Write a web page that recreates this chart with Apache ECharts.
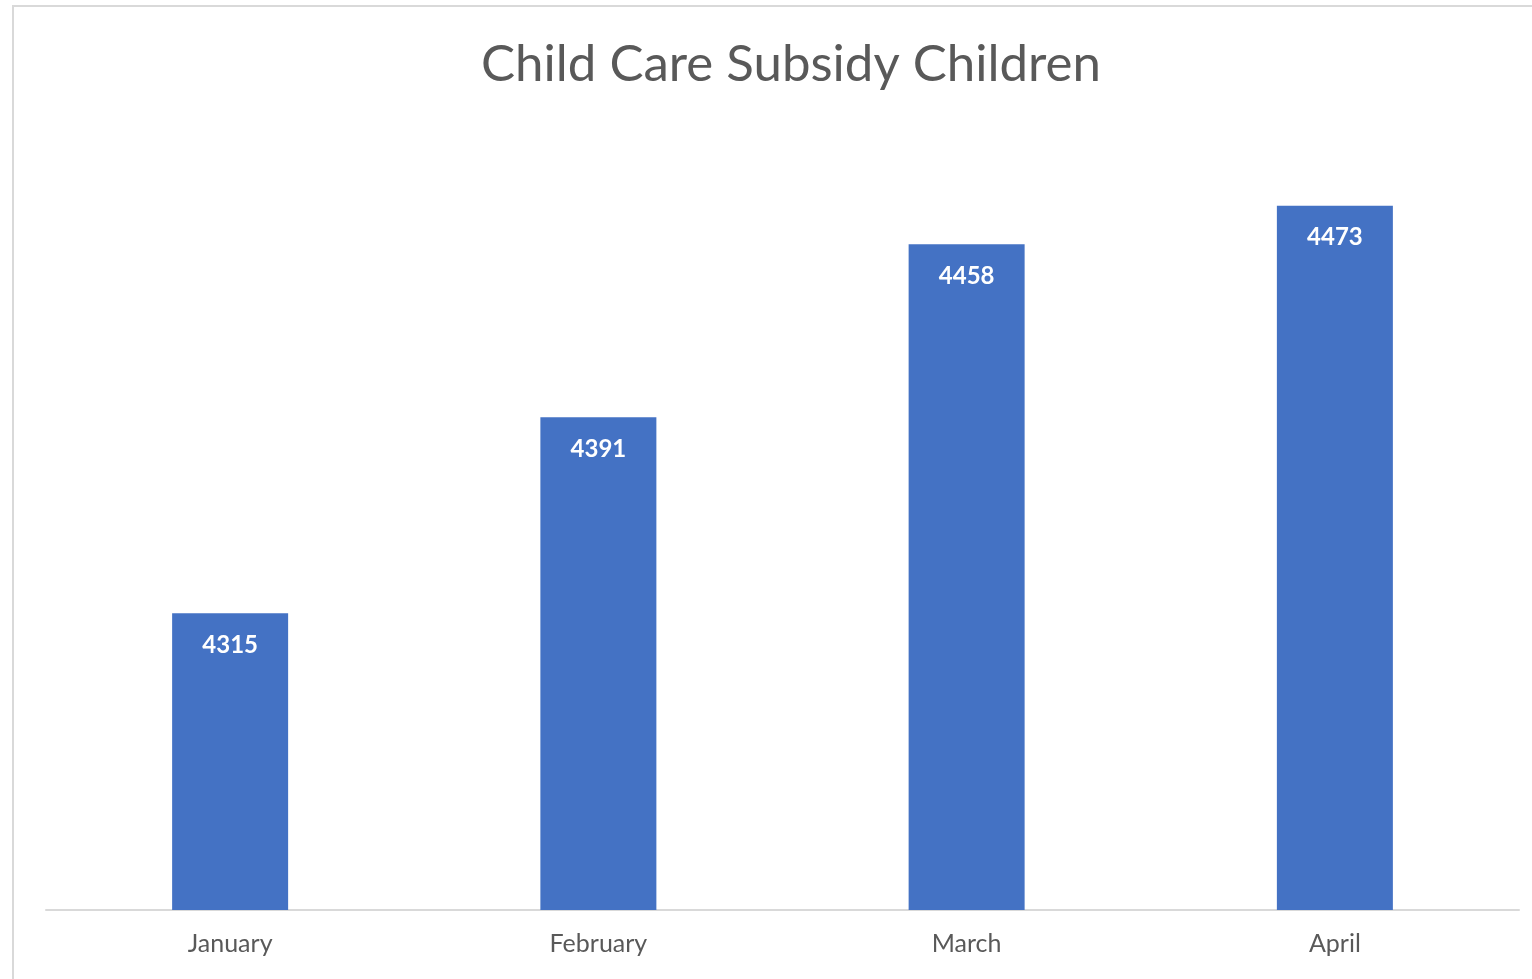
<!DOCTYPE html>
<html>
<head>
<meta charset="utf-8">
<script src="https://cdn.jsdelivr.net/npm/echarts@6/dist/echarts.min.js"></script>
<style>
html,body{margin:0;padding:0;background:#fff;}
#frame{position:absolute;left:12px;top:5px;width:1600px;height:1100px;border:2px solid #d9d9d9;box-sizing:border-box;}
#chart{position:absolute;left:0;top:0;width:1532px;height:979px;}
</style>
</head>
<body>
<div id="frame"></div>
<div id="chart"></div>
<script>
const titleText = 'Child Care Subsidy Children';
const categories = ['January', 'February', 'March', 'April'];
const values = [4315, 4391, 4458, 4473];

const chart = echarts.init(document.getElementById('chart'), null, {renderer: 'canvas'});
chart.setOption({
  backgroundColor: 'transparent',
  animation: false,
  title: {
    text: titleText,
    left: 786,
    textAlign: 'center',
    top: 34,
    textStyle: {fontFamily: 'Lato', fontSize: 51, fontWeight: 'normal', color: '#595959'}
  },
  grid: {left: 46, right: 13, top: 136, bottom: 69, containLabel: false},
  xAxis: {
    type: 'category',
    data: categories,
    axisLine: {lineStyle: {color: '#d9d9d9', width: 2}},
    axisTick: {show: false},
    axisLabel: {fontFamily: 'Lato', fontSize: 25, color: '#595959', margin: 21}
  },
  yAxis: {
    type: 'value',
    min: 4200,
    max: 4500,
    show: false,
    splitLine: {show: false}
  },
  series: [{
    type: 'bar',
    data: values,
    barWidth: 116,
    itemStyle: {color: '#4472c4'},
    label: {
      show: true,
      position: 'insideTop',
      distance: 20,
      color: '#ffffff',
      fontFamily: 'Lato',
      fontWeight: 'bold',
      fontSize: 24
    }
  }]
});
</script>
</body>
</html>
